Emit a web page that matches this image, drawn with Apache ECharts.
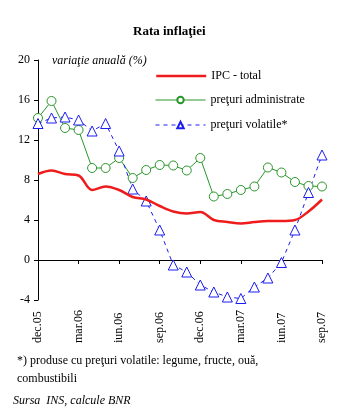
<!DOCTYPE html>
<html><head><meta charset="utf-8">
<script src="https://cdn.jsdelivr.net/npm/echarts@6/dist/echarts.min.js"></script>
<style>html,body{margin:0;padding:0;background:#fff}#c{width:360px;height:418px}</style>
</head><body><div id="c"></div>
<script>
const months = ['dec.05','ian.06','feb.06','mar.06','apr.06','mai.06','iun.06','iul.06','aug.06','sep.06','oct.06','nov.06','dec.06','ian.07','feb.07','mar.07','apr.07','mai.07','iun.07','iul.07','aug.07','sep.07'];
const ipcTotal = [8.6,8.95,8.6,8.45,7.0,7.35,7.0,6.3,6.05,5.4,4.85,4.65,4.8,4.0,3.8,3.65,3.8,3.9,3.9,4.0,4.85,6.05];
const preturiAdministrate = [14.2,15.9,13.2,13.0,9.2,9.2,10.2,8.2,9.0,9.5,9.45,8.95,10.2,6.35,6.6,7.0,7.35,9.25,8.75,7.8,7.4,7.35];
const preturiVolatile = [13.65,14.2,14.3,14.0,12.9,13.65,10.9,7.1,5.9,3.0,-0.5,-1.2,-2.5,-3.2,-3.7,-3.85,-2.7,-1.8,-0.25,3.0,6.75,10.5];
const seriesNames = ['IPC - total','preţuri administrate','preţuri volatile*'];
const yMin = -4, yMax = 20, yStep = 4;

const FONT = 'Liberation Serif';
const RED = '#ee1c1c', GREEN = '#2a962a', BLUE = '#1c1cf0';
const chart = echarts.init(document.getElementById('c'), null, {renderer:'canvas'});
const legendBase = {
  itemWidth: 50, itemHeight: 8, itemGap: 0, padding: 0,
  textStyle: {fontFamily: FONT, fontSize: 12, color: '#000'},
  selectedMode: false
};
chart.setOption({
  animation: false,
  backgroundColor: '#fff',
  title: [
    {text: 'Rata inflaţiei', left: 133, top: 25, padding: 0,
     textStyle: {fontFamily: FONT, fontSize: 13, fontWeight: 'bold', color: '#000'}},
    {text: 'variaţie anuală (%)', left: 52, top: 55, padding: 0,
     textStyle: {fontFamily: FONT, fontSize: 12, fontStyle: 'italic', fontWeight: 'normal', color: '#000'}},
    {text: '*) produse cu preţuri volatile: legume, fructe, ouă,\ncombustibili', left: 17, top: 352, padding: 0,
     textStyle: {fontFamily: FONT, fontSize: 12, fontWeight: 'normal', color: '#000', lineHeight: 18}},
    {text: 'Sursa  INS, calcule BNR', left: 13, top: 395, padding: 0,
     textStyle: {fontFamily: FONT, fontSize: 12, fontStyle: 'italic', fontWeight: 'normal', color: '#000'}}
  ],
  legend: [
    Object.assign({}, legendBase, {data: [{name: seriesNames[0], itemStyle: {opacity: 0}, lineStyle: {width: 2.5}}], left: 155, top: 70}),
    Object.assign({}, legendBase, {data: [{name: seriesNames[1], lineStyle: {width: 1}}], left: 155, top: 94}),
    Object.assign({}, legendBase, {data: [{name: seriesNames[2], lineStyle: {width: 1, type: [4, 4]}}], left: 155, top: 119})
  ],
  grid: {left: 38, right: 38, top: 60, bottom: 118, containLabel: false},
  xAxis: [
    {type: 'category', data: months, boundaryGap: false,
     axisLine: {onZero: true, lineStyle: {color: '#000', width: 1}},
     axisTick: {show: true, interval: 2, length: 4, inside: false, lineStyle: {color: '#000'}},
     axisLabel: {show: false, interval: 0}, splitLine: {show: false}},
    {type: 'category', data: months, boundaryGap: false, position: 'bottom',
     axisLine: {show: false, onZero: false}, axisTick: {show: false},
     axisLabel: {show: true, interval: 2, rotate: 90, align: 'left', verticalAlign: 'middle', margin: 43,
       fontFamily: FONT, fontSize: 12, color: '#000'}, splitLine: {show: false}}
  ],
  yAxis: {type: 'value', min: yMin, max: yMax, interval: yStep,
    axisLine: {show: true, lineStyle: {color: '#000', width: 1}},
    axisTick: {show: true, length: 4, lineStyle: {color: '#000'}},
    axisLabel: {fontFamily: FONT, fontSize: 12, color: '#000', margin: 8},
    splitLine: {show: false}},
  series: [
    {name: seriesNames[0], type: 'line', data: ipcTotal, smooth: 0.35, symbol: 'none', z: 3,
     lineStyle: {color: RED, width: 2.5}, itemStyle: {color: RED}},
    {name: seriesNames[1], type: 'line', data: preturiAdministrate, symbol: 'circle', symbolSize: 9, z: 2,
     showSymbol: true, showAllSymbol: true,
     lineStyle: {color: GREEN, width: 1}, itemStyle: {color: '#fff', borderColor: GREEN, borderWidth: 1}},
    {name: seriesNames[2], type: 'line', data: preturiVolatile, symbol: 'triangle', symbolSize: 10, z: 2,
     showSymbol: true, showAllSymbol: true,
     lineStyle: {color: BLUE, width: 1, type: [4, 4]}, itemStyle: {color: '#fff', borderColor: BLUE, borderWidth: 1}}
  ]
});
</script></body></html>
